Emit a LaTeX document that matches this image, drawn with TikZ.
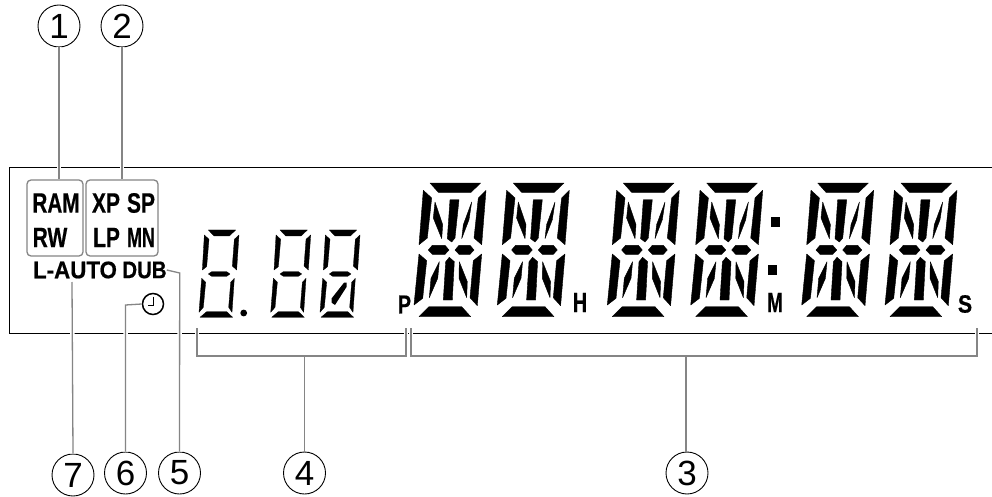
\documentclass[tikz,border=0pt]{standalone}
\usepackage{graphicx}
\usepackage{fontspec}
\setmainfont{Liberation Sans}
\definecolor{leadgray}{HTML}{858585}
\newcommand\dtxt[3]{\fontsize{#1}{#1}\selectfont\bfseries\addfontfeatures{FakeBold=0.6}\scalebox{#2}[1]{#3}}
\newcommand\alnum[1]{%
\begin{scope}[xshift=#1pt,line width=.4pt,line join=round]
\filldraw (430,183)--(480.7,183)--(471,192.3)--(438.3,192.3)--cycle;
\filldraw (423.3,190.3)--(431.7,198)--(427.3,238)--(419,244.7)--cycle;
\filldraw (450,199.7)--(459,199.7)--(455,238)--(451.7,242)--(447.3,238.7)--cycle;
\filldraw (435,202)--(442.7,224.7)--(441.7,238.7)--(433.3,218)--cycle;
\filldraw (471.7,202)--(469,219.7)--(461.7,238.7)--(463.3,224.7)--cycle;
\filldraw (486,190.3)--(481.7,244.7)--(474,238)--(478.3,198)--cycle;
\filldraw (428.3,250)--(432.3,245.3)--(445,245.3)--(449,250)--(445,254.3)--(432.3,254.3)--cycle;
\filldraw (455,250)--(459,245.3)--(470,245.3)--(474,250)--(470,254.3)--(459,254.3)--cycle;
\filldraw (419,254)--(426.7,260.7)--(422.7,298.3)--(414,305)--cycle;
\filldraw (449.3,257.3)--(454.3,261.7)--(452.3,300)--(443.3,300)--(445.7,261.7)--cycle;
\filldraw (439.3,261.7)--(437.7,278.3)--(429.3,297.7)--(431,278.3)--cycle;
\filldraw (459.3,261.7)--(467.3,281.7)--(466.7,297.7)--(459,278.3)--cycle;
\filldraw (481.7,254)--(477.3,305.7)--(470,297.7)--(473.3,260.7)--cycle;
\filldraw (419,316.7)--(429,306.7)--(461.7,306.7)--(470.7,316.7)--cycle;
\end{scope}}
\newcommand\sevenseg[1]{%
\begin{scope}[shift={(190+#1,170)},x=0.3333pt,y=-0.3333pt,line width=.3pt,line join=round]
\filldraw (55,180)--(137,180)--(118,198)--(72,198)--cycle;
\filldraw (43,195)--(57,208)--(50,290)--(37,300)--cycle;
\filldraw (147,195)--(140,300)--(127,288)--(133,208)--cycle;
\filldraw (55,312)--(65,305)--(110,305)--(120,312)--(110,319)--(65,319)--cycle;
\filldraw (35,325)--(47,337)--(40,412)--(27,427)--cycle;
\filldraw (133,325)--(126,427)--(116,412)--(122,337)--cycle;
\filldraw (30,442)--(50,425)--(110,425)--(128,442)--cycle;
\end{scope}}
\tikzset{
  num/.style={circle,draw=black,line width=0.9pt,minimum size=42pt,inner sep=0pt,fill=white,font=\fontsize{35}{35}\selectfont},
  lab/.style={inner sep=0pt,anchor=center},
  grp/.style={draw=leadgray,line width=1.3pt,rounded corners=4pt,inner sep=0pt},
  leader/.style={draw=leadgray,line width=1.3pt,preaction={draw=white,line width=4.5pt}},
  frameline/.style={draw=black,line width=1pt}
}
\begin{document}
\begin{tikzpicture}[x=1pt,y=-1pt]
\useasboundingbox[fill=white] (0,0) rectangle (992,497);
% frame
\draw[frameline] (992,167.7) -- (9,167.7) -- (9,333) -- (992,333);
% boxes
\node[grp,minimum width=56pt,minimum height=76pt] (ramb) at (55,218) {};
\node[grp,minimum width=72pt,minimum height=76pt] (xpb) at (122,218) {};
% labels
\node[lab] (ram) at (56,203) {\dtxt{28}{.74}{RAM}};
\node[lab] (rw) at (50,237.5) {\dtxt{28}{.75}{RW}};
\node[lab] (xp) at (106,203) {\dtxt{28}{.75}{XP}};
\node[lab] (sp) at (141,203) {\dtxt{28}{.75}{SP}};
\node[lab] (lp) at (106.5,237.5) {\dtxt{28}{.75}{LP}};
\node[lab] (mn) at (141,237.5) {\dtxt{28}{.64}{MN}};
\node[lab] (auto) at (75,270) {\dtxt{24}{.93}{L-AUTO}};
\node[lab] (dub) at (144.5,270) {\dtxt{24}{.85}{DUB}};
\node[lab] (pp) at (404.5,304.5) {\dtxt{26}{.75}{P}};
\node[lab] (hh) at (580,302.5) {\dtxt{28}{.7}{H}};
\node[lab] (mm) at (775,302.5) {\dtxt{28}{.68}{M}};
\node[lab] (ss) at (965,304) {\dtxt{25}{.85}{S}};
% clock
\node[circle,draw=black,line width=1.5pt,minimum size=21pt,inner sep=0pt] (clock) at (153,304) {};
\draw[line width=1.5pt] (153.3,296.7) -- (153.3,305.7) -- (147.7,305.7);
% digits
\sevenseg{0}\sevenseg{71.7}\sevenseg{121}
\fill (243.7,313) circle (3.4);
\fill (344,282.7)--(346.7,282.7)--(346.7,286.7)--(335,305)--(331.7,302.7)--(331.7,298.3)--cycle;
\alnum{0}\alnum{83.3}\alnum{193.3}\alnum{276.7}\alnum{387.7}\alnum{471}
\fill (771,217) rectangle (780,227);
\fill (767.7,265) rectangle (776.7,275);
% circles
\node[num] (c1) at (59,26) {1};
\node[num] (c2) at (122,26) {2};
\node[num] (c3) at (687,473) {3};
\node[num] (c4) at (304.5,473) {4};
\node[num] (c5) at (179.5,473) {5};
\node[num] (c6) at (125.5,473) {6};
\node[num] (c7) at (73,475) {7};
% bracket anchors
\coordinate (b4l) at (197,328); \coordinate (b4r) at (406,328);
\coordinate (b4m) at (304.5,356);
\coordinate (b3l) at (411,328); \coordinate (b3r) at (977,328);
\coordinate (b3m) at (686,356);
\coordinate (k5) at (179.7,273); \coordinate (k6) at (125.5,305);
% leaders
\draw[leader] (c1.south) -- (c1 |- ramb.north);
\draw[leader] (c2.south) -- (c2 |- xpb.north);
\draw[leader] (b4l) -- (197,356) -- (406,356) -- (b4r);
\draw[leader] (b3l) -- (411,356) -- (977,356) -- (b3r);
\draw[draw=leadgray,line width=1.3pt] (c4.north) -- (b4m);
\draw[draw=leadgray,line width=1.3pt] (686,452) -- (b3m);
\draw[leader] (c7.north) -- (72,282);
\draw[leader] (c6.north) -- (k6) -- (clock.west);
\draw[leader] (c5.north) -- (k5) -- (dub.east);
\end{tikzpicture}
\end{document}
